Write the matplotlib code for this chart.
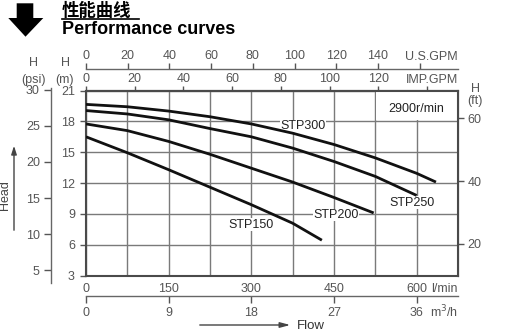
import matplotlib
matplotlib.use('Agg')
import matplotlib.pyplot as plt
from matplotlib.patches import Polygon, Rectangle, FancyArrowPatch
from matplotlib.lines import Line2D

plt.rcParams['font.family'] = ['Liberation Sans', 'DejaVu Sans']

# pump curves: flow (l/min) vs head (m)
stp300_q = [0, 75, 150, 225, 300, 375, 450, 525, 600, 635]
stp300_h = [19.65, 19.42, 19.0, 18.45, 17.75, 16.85, 15.75, 14.45, 12.95, 12.1]

stp250_q = [0, 75, 150, 225, 300, 375, 450, 525, 600]
stp250_h = [19.05, 18.72, 18.15, 17.3, 16.5, 15.4, 14.1, 12.65, 10.8]

stp200_q = [0, 75, 150, 225, 300, 375, 450, 522]
stp200_h = [17.75, 17.1, 16.05, 14.8, 13.45, 12.1, 10.6, 9.1]

stp150_q = [0, 75, 150, 225, 300, 375, 428]
stp150_h = [16.5, 14.95, 13.3, 11.6, 9.9, 8.1, 6.45]

lmin_ticks = [0, 150, 300, 450, 600]
m3h_ticks = [0, 9, 18, 27, 36]
usgpm_ticks = [0, 20, 40, 60, 80, 100, 120, 140, 160]
impgpm_ticks = [0, 20, 40, 60, 80, 100, 120, 140]
m_ticks = [3, 6, 9, 12, 15, 18, 21]
psi_ticks = [5, 10, 15, 20, 25, 30]
ft_ticks = [20, 40, 60]

W, H = 510, 336
gray = '#555555'
grid_c = '#7a7a7a'


def fx(px):
    return px / W


def fy(py):
    return 1 - py / H


fig = plt.figure(figsize=(5.1, 3.36), dpi=100)
ax = fig.add_axes([fx(86), fy(275.7), 372 / W, 185.2 / H])

ax.set_xlim(0, 675)
ax.set_ylim(3, 21)

ax.set_xticks(lmin_ticks)
ax.set_xticks([75, 225, 375, 525, 675], minor=True)
ax.set_yticks(m_ticks)
ax.grid(True, which='both', color=grid_c, lw=1.0)
ax.set_axisbelow(True)
ax.tick_params(axis='x', which='both', length=0, pad=5, labelsize=9, colors=gray)
ax.tick_params(axis='y', direction='out', length=4, width=1, pad=4,
               labelsize=9, colors=gray)
for s in ax.spines.values():
    s.set_color('#4a4a4a')
    s.set_linewidth(1.5)

# curves
for q, h in [(stp300_q, stp300_h), (stp250_q, stp250_h),
             (stp200_q, stp200_h), (stp150_q, stp150_h)]:
    ax.plot(q, h, color='#111111', lw=2.0, solid_capstyle='butt', zorder=3)

lbl_box = dict(facecolor='white', edgecolor='none', pad=0.3)
ax.text(394, 17.55, 'STP300', fontsize=9, color='#222222', ha='center', va='center', bbox=lbl_box, zorder=2.5)
ax.text(591, 10.1, 'STP250', fontsize=9, color='#222222', ha='center', va='center', bbox=lbl_box, zorder=2.5)
ax.text(453, 8.9, 'STP200', fontsize=9, color='#222222', ha='center', va='center', bbox=lbl_box, zorder=2.5)
ax.text(299, 7.95, 'STP150', fontsize=9, color='#222222', ha='center', va='center', bbox=lbl_box, zorder=2.5)

ax.add_patch(Rectangle((527, 18.1), 146, 2.8, facecolor='white', edgecolor='none', zorder=2))
ax.text(600, 19.25, '2900r/min', fontsize=9, color='#222222', ha='center', va='center', zorder=4)

# bottom secondary: m3/h
m3h = ax.secondary_xaxis(-0.11, functions=(lambda q: q * 0.06, lambda v: v / 0.06))
m3h.set_xticks(m3h_ticks)
m3h.tick_params(direction='out', length=5, width=1, pad=3, labelsize=9, colors=gray)
for s in m3h.spines.values():
    s.set_color('#666666')
    s.set_linewidth(1.0)

# top secondaries
imp = ax.secondary_xaxis('top', functions=(lambda q: q / 4.42, lambda g: g * 4.42))
imp.set_xticks(impgpm_ticks)
imp.set_xticklabels([str(t) for t in impgpm_ticks[:-1]] + [''])
imp.tick_params(direction='out', length=3, width=1, pad=1, labelsize=9, colors=gray)

us = ax.secondary_xaxis(1.116, functions=(lambda q: q / 3.785, lambda g: g * 3.785))
us.set_xticks(usgpm_ticks)
us.set_xticklabels([str(t) for t in usgpm_ticks[:-1]] + [''])
us.tick_params(direction='out', length=4, width=1, pad=1, labelsize=9, colors=gray)
for s in us.spines.values():
    s.set_color('#666666')
    s.set_linewidth(1.0)

# left psi axis: its own thin axes so the 30 psi tick above the frame shows
psi = fig.add_axes([fx(51), fy(283), 0.0001, (283 - 88) / H])
psi.set_ylim((3 - (283 - 275.7) / 10.289) / 0.70307,
             (21 + (90.5 - 88) / 10.289) / 0.70307)
psi.set_yticks(psi_ticks)
psi.set_xticks([])
psi.patch.set_visible(False)
for side in ['top', 'right', 'bottom']:
    psi.spines[side].set_visible(False)
psi.spines['left'].set_color('#666666')
psi.spines['left'].set_linewidth(1.0)
psi.tick_params(axis='y', direction='out', length=5, width=1, pad=3, labelsize=9, colors=gray)

ft = ax.secondary_yaxis('right', functions=(lambda m: m / 0.3048, lambda f: f * 0.3048))
ft.set_yticks(ft_ticks)
ft.tick_params(direction='out', length=4, width=1, pad=3, labelsize=9, colors=gray)

# unit labels
fig.text(fx(458), fy(56.5), 'U.S.GPM', fontsize=9, color=gray, ha='right', va='center')
fig.text(fx(458), fy(80), 'IMP.GPM', fontsize=9, color=gray, ha='right', va='center')
fig.text(fx(458), fy(288.5), 'l/min', fontsize=9, color=gray, ha='right', va='center')
fig.text(fx(458), fy(311.5), 'm$^3$/h', fontsize=9, color=gray, ha='right', va='center')

fig.text(fx(33), fy(63.5), 'H', fontsize=9, color=gray, ha='center', va='center')
fig.text(fx(34), fy(79.5), '(psi)', fontsize=9, color=gray, ha='center', va='center')
fig.text(fx(66), fy(63.5), 'H', fontsize=9, color=gray, ha='center', va='center')
fig.text(fx(65), fy(79.5), '(m)', fontsize=9, color=gray, ha='center', va='center')
fig.text(fx(476), fy(88.5), 'H', fontsize=9, color=gray, ha='center', va='center')
fig.text(fx(475), fy(101), '(ft)', fontsize=9, color=gray, ha='center', va='center')

# Head / Flow arrows
fig.text(fx(5), fy(195), 'Head', fontsize=9, color='#444444', rotation=90, ha='center', va='center')
fig.patches.append(FancyArrowPatch(
    (fx(14), fy(233)), (fx(14), fy(143)), transform=fig.transFigure,
    arrowstyle='-|>,head_length=5,head_width=1.6', color='#444444', lw=1.0))
fig.patches.append(FancyArrowPatch(
    (fx(197), fy(325)), (fx(293), fy(325)), transform=fig.transFigure,
    arrowstyle='-|>,head_length=6,head_width=1.6', color='#444444', lw=1.0))
fig.text(fx(297), fy(326), 'Flow', fontsize=9.5, color='#333333', ha='left', va='center')

# header
arrow_pts = [(fx(16.7), fy(3.3)), (fx(33.3), fy(3.3)), (fx(33.3), fy(18)),
             (fx(43.3), fy(18)), (fx(25.5), fy(36.7)), (fx(8.3), fy(18)),
             (fx(16.7), fy(18))]
fig.patches.append(Polygon(arrow_pts, closed=True, transform=fig.transFigure,
                           facecolor='black', edgecolor='none'))
fig.text(fx(62), fy(10.5), '性能曲线', fontsize=12.5, fontweight='bold',
         family=['Noto Sans CJK SC', 'DejaVu Sans'], ha='left', va='center')
fig.lines.append(Line2D([fx(62), fx(139)], [fy(18.8), fy(18.8)],
                        transform=fig.transFigure, color='black', lw=1.2))
fig.text(fx(62), fy(29.5), 'Performance curves', fontsize=13, fontweight='bold',
         ha='left', va='center')

fig.savefig('out.png', dpi=100)
